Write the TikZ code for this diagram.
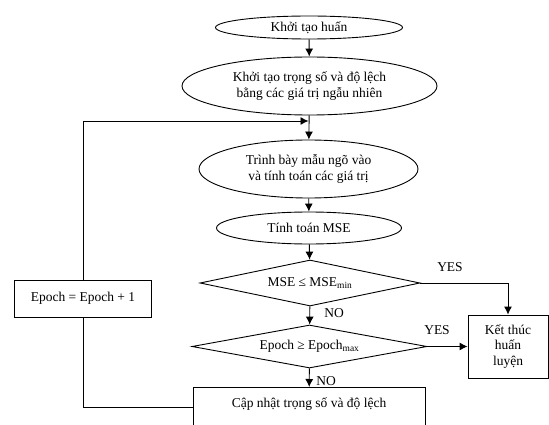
\documentclass[tikz,border=0pt]{standalone}
\usepackage{fontspec}
\setmainfont{Liberation Serif}
\usetikzlibrary{shapes.geometric,arrows.meta}
\begin{document}
\begin{tikzpicture}[x=1pt, y=-1pt,
  every node/.style={font=\fontsize{13.5}{15.5}\selectfont},
  oval/.style={draw, ellipse, inner sep=0pt, align=center},
  cond/.style={draw, diamond, inner sep=0pt, aspect=5},
  box/.style={draw, align=center},
  lbl/.style={inner sep=0pt},
  arr/.style={-{Latex[length=8pt,width=8pt]}},
  line width=0.9pt
]
  \useasboundingbox (0,0) rectangle (549,425);
  \clip (0,0) rectangle (549,425);
  \node[oval, minimum width=187, minimum height=23] (start) at (309,27.5) {Khởi tạo huấn};
  \node[oval, minimum width=255, minimum height=58] (init) at (309.5,86) {Khởi tạo trọng số và độ lệch\\bằng các giá trị ngẫu nhiên};
  \node[oval, minimum width=219, minimum height=58] (present) at (308.5,169) {Trình bày mẫu ngõ vào\\và tính toán các giá trị};
  \node[oval, minimum width=185, minimum height=32] (mse) at (309,228) {Tính toán MSE};
  \node[cond, minimum width=220, minimum height=46] (chk1) at (310,283) {MSE ≤ MSE\textsubscript{min}};
  \node[cond, minimum width=235, minimum height=43] (chk2) at (309.5,346.5) {Epoch ≥ Epoch\textsubscript{max}};
  \node[box, anchor=north, minimum width=232, inner ysep=4pt, text height=16pt, text depth=30pt] (update) at (309,387) {Cập nhật trọng số và độ lệch};
  \node[box, minimum width=80, minimum height=63] (finish) at (508,346.5) {Kết thúc\\huấn\\luyện};
  \node[box, minimum width=137, minimum height=37] (epoch) at (83,298.5) {Epoch = Epoch + 1};
  \coordinate (join) at (308.5,121);
  \draw[arr] (start) -- (init);
  \draw[arr] (init) -- (present);
  \draw[arr] (present) -- (mse);
  \draw[arr] (mse) -- (chk1);
  \draw[arr] (chk1) -- (chk2);
  \draw[arr] (chk2) -- (update);
  \draw[arr] (chk1.east) -| (finish.north);
  \draw[arr] (chk2.east) -- (finish.west);
  \draw (update.base west) -| (epoch.south);
  \draw[arr] (epoch.north) |- (join);
  \node[lbl] (yes1) at (450,267) {YES};
  \node[lbl] (yes2) at (437,330) {YES};
  \node[lbl] (no1) at (334,313) {NO};
  \node[lbl] (no2) at (326,381) {NO};
\end{tikzpicture}
\end{document}
